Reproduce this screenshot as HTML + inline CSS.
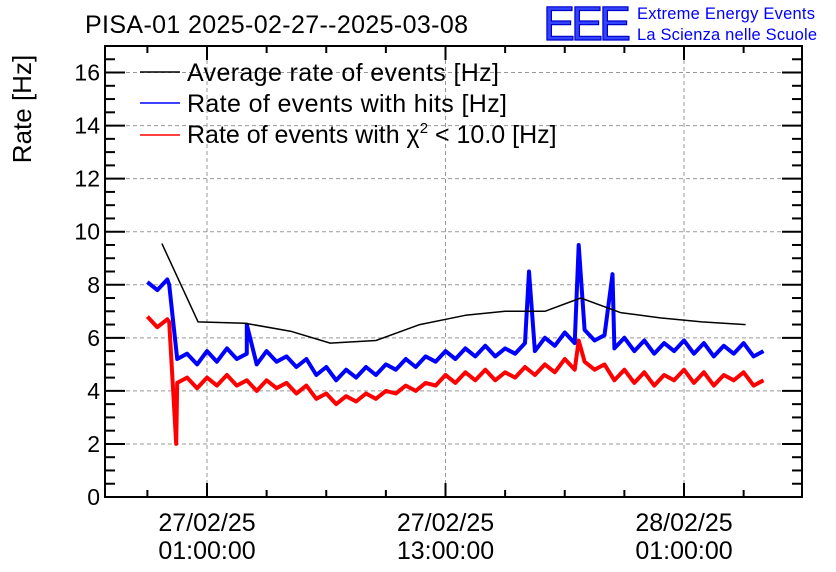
<!DOCTYPE html>
<html><head><meta charset="utf-8">
<style>
body{margin:0;background:#fff;}
svg{display:block;font-family:"Liberation Sans",sans-serif;}
</style></head>
<body>
<svg id="chart" width="836" height="572" viewBox="0 0 836 572" xmlns="http://www.w3.org/2000/svg">
<rect width="836" height="572" fill="#fff"/>
<text x="85" y="33" font-size="25" textLength="383">PISA-01 2025-02-27--2025-03-08</text>
<text x="543" y="40" font-size="48" fill="#3344ff" stroke="#0000cc" stroke-width="1.2" textLength="88">EEE</text>
<text x="637" y="19" font-size="16.5" fill="#0000ff" textLength="178">Extreme Energy Events</text>
<text x="637" y="40" font-size="16.5" fill="#0000ff" textLength="180">La Scienza nelle Scuole</text>
<text transform="translate(31,109) rotate(-90)" text-anchor="middle" font-size="26">Rate [Hz]</text>
<g id="grid"></g>
<g id="series"></g>
<g id="axes"></g>
<g>
<line x1="140" y1="72" x2="180" y2="72" stroke="#000" stroke-width="1.5"/>
<text x="187" y="81" font-size="25" textLength="312">Average rate of events [Hz]</text>
<line x1="140" y1="103" x2="180" y2="103" stroke="#0000ff" stroke-width="1.5"/>
<text x="187" y="112" font-size="25" textLength="320">Rate of events with hits [Hz]</text>
<line x1="140" y1="135" x2="180" y2="135" stroke="#ff0000" stroke-width="1.5"/>
<text x="187" y="143" font-size="25">Rate of events with χ<tspan font-size="15" dy="-10">2</tspan><tspan dy="10"> &lt; 10.0 [Hz]</tspan></text>
</g>
</svg>
<script>
// hours relative to 27/02/25 00:00
const avgHours=[-1.27,0.55,2.9,5.2,7.2,9.5,11.7,14.0,16.0,18.0,19.8,21.8,23.8,25.9,28.1];
const avgValues=[9.55,6.6,6.55,6.25,5.8,5.9,6.5,6.85,7.0,7.0,7.5,6.95,6.75,6.6,6.5];
const startHour=-2, stepHours=0.5;
const hitsValues=[8.1,7.8,8.2,5.2,
5.4,5.0,5.5,5.1,5.6,5.2,5.4,5.0,5.5,5.1,5.3,
4.9,5.2,4.6,4.9,4.4,4.8,4.5,4.9,
4.6,5.0,4.8,5.2,4.9,5.3,
5.1,5.5,5.2,5.6,5.3,5.7,5.3,5.6,5.4,5.8,
5.5,6.0,5.7,6.2,5.8,6.3,5.9,6.1,
5.6,6.0,5.5,5.9,5.4,5.8,5.5,5.9,5.4,5.8,5.3,5.7,5.4,5.8,5.3,5.5];
const chi2Values=[6.8,6.4,6.7,4.3,
4.5,4.1,4.5,4.2,4.6,4.2,4.4,4.0,4.4,4.1,4.3,
3.9,4.2,3.7,3.9,3.5,3.8,3.6,3.9,
3.7,4.0,3.9,4.2,4.0,4.3,
4.2,4.6,4.3,4.7,4.4,4.8,4.4,4.7,4.5,4.9,
4.6,5.0,4.7,5.2,4.8,5.1,4.8,5.0,
4.4,4.8,4.3,4.7,4.2,4.6,4.4,4.8,4.3,4.7,4.2,4.6,4.4,4.7,4.2,4.4];
const hitsSpikeHours=[-0.9,3.0,17.2,19.7,21.4];
const hitsSpikeValues=[8.0,6.5,8.5,9.5,8.4];
const chi2SpikeHours=[-0.9,-0.55,19.7];
const chi2SpikeValues=[6.6,2.0,5.9];
const yTicks=[0,2,4,6,8,10,12,14,16];
const xTickHours=[1,13,25];
const xTickLabels=[["27/02/25","01:00:00"],["27/02/25","13:00:00"],["28/02/25","01:00:00"]];

const L=105,R=802,T=46,B=497,yMax=17;
const pxPerHour=(684-207)/24;
const X=h=>207+(h-1)*pxPerHour;
const Y=v=>B-v*(B-T)/yMax;
const NS="http://www.w3.org/2000/svg";
function mk(tag,attrs,parent){const e=document.createElementNS(NS,tag);for(const k in attrs)e.setAttribute(k,attrs[k]);parent.appendChild(e);return e;}
const grid=document.getElementById('grid'),axes=document.getElementById('axes'),series=document.getElementById('series');

yTicks.forEach(v=>{if(v>0){const g=mk('line',{x1:L,x2:R,y1:Y(v),y2:Y(v),stroke:'#999','stroke-dasharray':'4,3','stroke-width':1},grid);

}
const t=mk('text',{x:L-5,y:Y(v)+8,'text-anchor':'end','font-size':23},axes);t.textContent=v;

});
for(let v=0;v<=yMax;v+=0.5){const maj=v%2===0;const len=maj?20:10;
mk('line',{x1:L,x2:L+len,y1:Y(v),y2:Y(v),stroke:'#000','stroke-width':2},axes);
mk('line',{x1:R,x2:R-len,y1:Y(v),y2:Y(v),stroke:'#000','stroke-width':2},axes);}
xTickHours.forEach((h,i)=>{const g=mk('line',{x1:X(h),x2:X(h),y1:T,y2:B,stroke:'#999','stroke-dasharray':'4,3','stroke-width':1},grid);


xTickLabels[i].forEach((s,j)=>{const t=mk('text',{x:X(h),y:531+j*28,'text-anchor':'middle','font-size':25},axes);t.textContent=s;

});});
for(let h=-2;X(h)<R;h+=3){if(X(h)<L)continue;const maj=xTickHours.includes(h);const len=maj?14:7;
mk('line',{x1:X(h),x2:X(h),y1:B,y2:B-len,stroke:'#000','stroke-width':2},axes);
mk('line',{x1:X(h),x2:X(h),y1:T,y2:T+len,stroke:'#000','stroke-width':2},axes);}
const fr=mk('rect',{x:L,y:T,width:R-L,height:B-T,fill:'none',stroke:'#000','stroke-width':2},axes);



function pts(vals,sh,sv){const p=vals.map((v,i)=>[startHour+i*stepHours,v]);sh.forEach((h,i)=>p.push([h,sv[i]]));
p.sort((a,b)=>a[0]-b[0]);return p;}
function draw(p,color,name,w){const d=p.map((q,i)=>(i?'L':'M')+X(q[0]).toFixed(1)+','+Y(q[1]).toFixed(1)).join('');
const e=mk('path',{d:d,fill:'none',stroke:color,'stroke-width':w,'stroke-linejoin':'round'},series);

}
draw(pts(chi2Values,chi2SpikeHours,chi2SpikeValues),'#ff0000','chi2-rate-series',4);
draw(pts(hitsValues,hitsSpikeHours,hitsSpikeValues),'#0000ff','hits-rate-series',4);
draw(avgHours.map((h,i)=>[h,avgValues[i]]),'#000','average-rate-series',1.5);
</script>
</body></html>
